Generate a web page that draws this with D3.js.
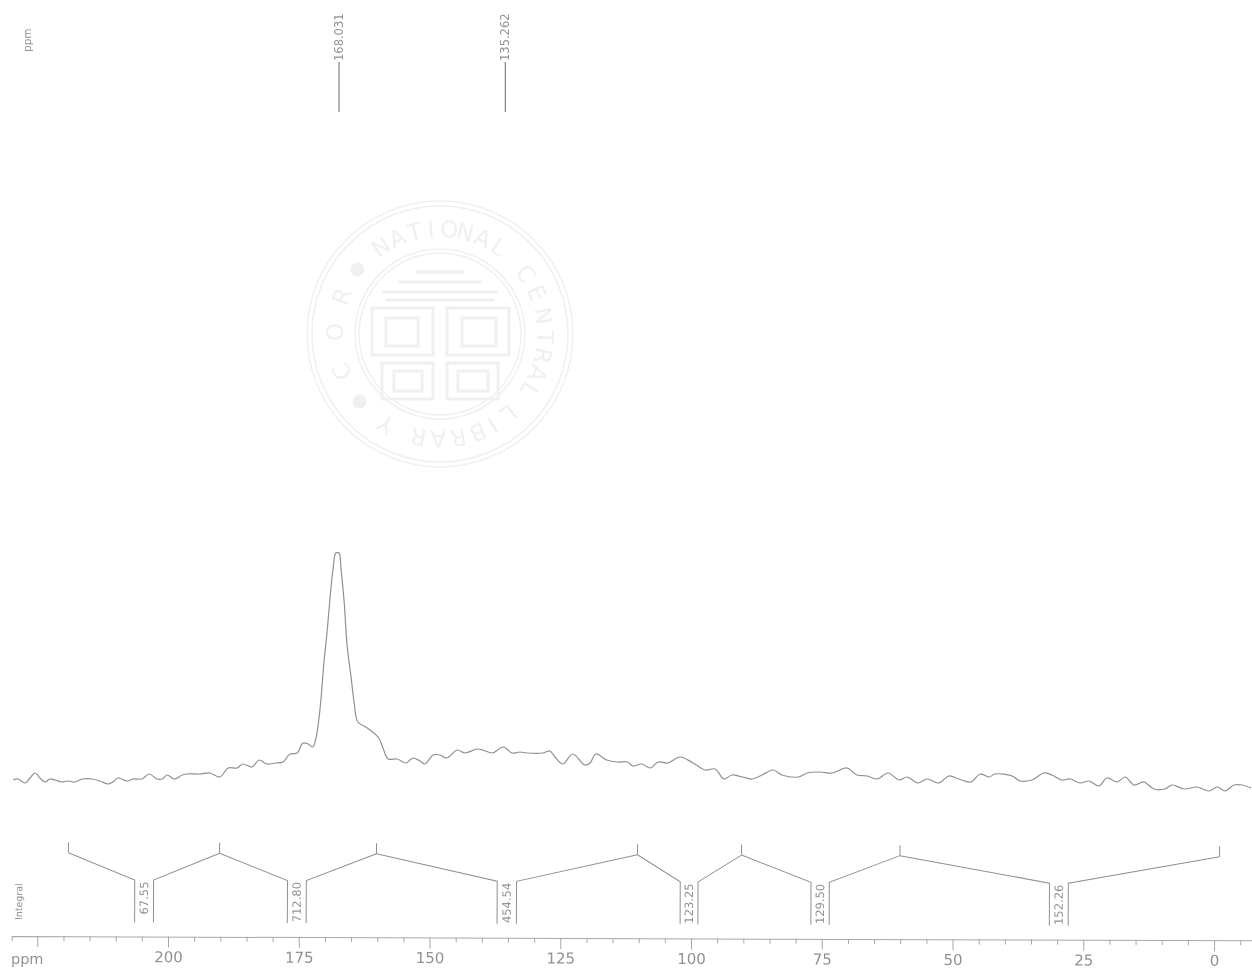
<!DOCTYPE html>
<html>
<head>
<meta charset="utf-8">
<script src="https://cdn.jsdelivr.net/npm/d3@7"></script>
<style>
  html, body { margin: 0; background: #fff; }
  svg { display: block; }
  text { font-family: "DejaVu Sans", sans-serif; fill: #929292; }
</style>
</head>
<body>
<div id="chart"></div>
<script>
// values
const spectrumPpm = [229.6,228.7,227.3,226.4,225.4,224.5,223.5,222.6,221.6,220.3,219.1,217.8,216.4,214.5,213.0,211.5,210.5,209.6,207.8,206.7,205.0,203.6,202.1,201.1,200.2,198.7,197.3,196.4,193.9,192.0,190.1,188.5,186.8,185.7,183.9,182.6,181.1,179.5,178.0,176.7,175.3,174.2,173.2,172.3,171.7,171.1,170.6,170.2,169.6,169.0,168.4,167.9,167.3,166.9,166.3,165.8,165.0,164.4,163.7,161.9,159.7,158.9,157.9,156.2,154.5,153.2,151.8,150.9,149.3,148.0,146.7,144.7,143.2,140.9,139.8,138.0,135.9,134.2,132.7,131.4,128.3,127.0,126.0,124.5,122.6,120.3,119.3,118.2,116.1,114.1,112.2,111.1,109.4,107.8,106.3,104.4,102.1,99.6,97.3,95.4,93.7,92.2,90.2,88.3,86.4,84.3,82.6,79.5,77.8,75.3,73.0,70.2,68.3,66.3,64.4,62.3,60.2,58.7,56.6,54.9,52.6,50.7,48.8,46.5,44.7,43.0,41.9,38.6,37.1,34.8,32.5,31.0,29.1,27.5,25.6,23.9,22.0,20.5,18.5,17.0,15.3,13.4,11.5,9.4,8.0,5.7,3.3,1.0,-0.6,-2.1,-3.8,-5.4,-7.1];
const spectrumIntensity = [20,21,17,22,27,22,18,21,20,18,19,18,21,21,19,16,18,22,19,21,21,26,21,21,25,21,25,26,26,27,23,32,32,36,33,40,36,37,38,46,47,57,56,53,62,83,110,137,167,203,233,247,247,230,197,157,123,97,78,72,62,52,41,41,37,42,39,36,45,45,42,50,47,51,50,47,53,47,48,47,47,49,43,36,46,35,37,46,40,38,38,34,36,32,38,37,43,37,30,31,21,25,23,21,25,30,25,23,27,28,27,32,25,24,21,27,20,23,17,21,17,24,21,18,26,23,26,24,19,20,27,25,20,21,17,19,14,22,18,23,15,18,11,11,15,11,13,9,13,9,15,15,12];

const peakPpm = [167.3, 135.5];
const peakLabels = ["168.031", "135.262"];

const integralBreaks = [219.1, 190.2, 160.2, 110.3, 90.4, 60.1, -1.0];
const integralLeft = [206.4, 177.2, 137.1, 102.1, 77.1, 31.5];
const integralRight = [202.8, 173.6, 133.4, 98.7, 73.6, 27.9];
const integralLabels = ["67.55", "712.80", "454.54", "123.25", "129.50", "152.26"];

const majorTicks = [225, 200, 175, 150, 125, 100, 75, 50, 25, 0];
const minorTicks = [220, 215, 210, 205, 195, 190, 185, 180, 170, 165, 160, 155, 145, 140, 135, 130, 120, 115, 110, 105, 95, 90, 85, 80, 70, 65, 60, 55, 45, 40, 35, 30, 20, 15, 10, 5, -5];
const majorLabels = ["", "200", "175", "150", "125", "100", "75", "50", "25", "0"];

// library stamp behind the plot: letter and angle in degrees from the top, clockwise
const sealLetters = ["N","A","T","I","O","N","A","L","C","E","N","T","R","A","L","L","I","B","R","A","R","Y","C","O","R"];
const sealAngles = [-34,-24,-14,-5,5,14,24,34,55,67,80,92,102,112,122,139,150,159,170,181,192,211,249,271,291];
const sealDots = [230, 308];

const svgWidth = 1252;
const svgHeight = 971;
const lineColor = "#909090";

const svg = d3.select("#chart").append("svg")
  .attr("width", svgWidth)
  .attr("height", svgHeight);

// the original is a soft scan
svg.append("filter").attr("id", "scan")
  .attr("x", 0).attr("y", 0).attr("width", 1).attr("height", 1)
  .attr("filterUnits", "objectBoundingBox")
  .append("feGaussianBlur").attr("stdDeviation", 0.5);

const page = svg.append("g").attr("filter", "url(#scan)");
page.append("rect").attr("width", svgWidth).attr("height", svgHeight).attr("fill", "#fff");

const x = d3.scaleLinear().domain([232, -7.3]).range([0.64, 1252.2]);
const y = d3.scaleLinear().domain([0, 250]).range([800, 550]);

// seal
const seal = page.append("g").attr("transform", "translate(440,334)");
const sealColor = "#f0f0f0";
[133, 128, 85, 81].forEach(r => {
  seal.append("circle").attr("r", r)
    .attr("fill", "none").attr("stroke", sealColor).attr("stroke-width", 1.5);
});
seal.selectAll(".seal-letter")
  .data(sealLetters)
  .enter().append("text")
  .attr("class", "seal-letter")
  .attr("transform", (d, i) => `rotate(${sealAngles[i]}) translate(0,-97)`)
  .attr("text-anchor", "middle")
  .attr("font-size", 23)
  .style("fill", sealColor)
  .text(d => d);
seal.selectAll(".seal-dot")
  .data(sealDots)
  .enter().append("circle")
  .attr("class", "seal-dot")
  .attr("transform", d => `rotate(${d}) translate(0,-105)`)
  .attr("r", 7)
  .attr("fill", sealColor);
// the four blocks and the bars in the middle of the stamp
[[-68,-26,61,47],[7,-26,62,47],[-58,29,51,36],[7,29,51,36],[-54,-16,32,28],[22,-16,34,28],[-46,37,28,20],[18,37,30,20]].forEach(b => {
  seal.append("rect")
    .attr("x", b[0]).attr("y", b[1]).attr("width", b[2]).attr("height", b[3])
    .attr("fill", "none").attr("stroke", sealColor).attr("stroke-width", 3);
});
[[-55,-34,55],[-58,-42,58],[-42,-52,42],[-24,-62,24]].forEach(b => {
  seal.append("line")
    .attr("x1", b[0]).attr("x2", b[2]).attr("y1", b[1]).attr("y2", b[1])
    .attr("stroke", sealColor).attr("stroke-width", 3);
});

// peak sticks and their labels
page.append("text")
  .attr("transform", "translate(31,52) rotate(-90)")
  .attr("font-size", 10.5)
  .text("ppm");

const peaks = page.selectAll(".peak")
  .data(peakPpm)
  .enter().append("g")
  .attr("class", "peak");

peaks.append("line")
  .attr("x1", d => x(d)).attr("x2", d => x(d))
  .attr("y1", 62).attr("y2", 112)
  .attr("stroke", "#808080").attr("stroke-width", 1.2);

peaks.append("text")
  .attr("transform", d => `translate(${x(d) + 4},61) rotate(-90)`)
  .attr("font-size", 11.5)
  .text((d, i) => peakLabels[i]);

// spectrum
const spectrum = spectrumPpm.map((p, i) => ({ ppm: p, value: spectrumIntensity[i] }));

page.append("path")
  .datum(spectrum)
  .attr("fill", "none")
  .attr("stroke", lineColor)
  .attr("stroke-width", 1.2)
  .attr("d", d3.line().x(d => x(d.ppm)).y(d => y(d.value)).curve(d3.curveCatmullRom));

// integrals and ppm axis sit on a slightly skewed part of the scan
const lower = page.append("g").attr("transform", "translate(3.3,0) rotate(0.2)");

const integralTop = 852.5;
const integralTick = 842;
const integralValley = 879.5;
const integralBottom = 922;

lower.append("text")
  .attr("transform", "translate(22,920) rotate(-90)")
  .attr("font-size", 9.5)
  .text("Integral");

lower.selectAll(".integral-tick")
  .data(integralBreaks)
  .enter().append("line")
  .attr("class", "integral-tick")
  .attr("x1", d => x(d)).attr("x2", d => x(d))
  .attr("y1", integralTick).attr("y2", integralTop)
  .attr("stroke", lineColor);

const regions = lower.selectAll(".integral")
  .data(integralLabels)
  .enter().append("g")
  .attr("class", "integral");

regions.append("path")
  .attr("fill", "none")
  .attr("stroke", lineColor)
  .attr("d", (d, i) => d3.line()([
    [x(integralBreaks[i]), integralTop],
    [x(integralLeft[i]), integralValley],
    [x(integralLeft[i]), integralBottom]
  ]));

regions.append("path")
  .attr("fill", "none")
  .attr("stroke", lineColor)
  .attr("d", (d, i) => d3.line()([
    [x(integralBreaks[i + 1]), integralTop],
    [x(integralRight[i]), integralValley],
    [x(integralRight[i]), integralBottom]
  ]));

regions.append("text")
  .attr("transform", (d, i) => `translate(${(x(integralLeft[i]) + x(integralRight[i])) / 2 + 4},881) rotate(-90)`)
  .attr("text-anchor", "end")
  .attr("font-size", 11.5)
  .text(d => d);

// ppm axis
const axisY = 936;
const axisColor = "#a8a8a8";
const axisScale = x.copy().domain([229.9, -7.3]).range([x(229.9), x(-7.3)]);

const minorAxis = lower.append("g")
  .attr("transform", `translate(0,${axisY})`)
  .call(d3.axisBottom(axisScale).tickValues(minorTicks).tickSize(5).tickSizeOuter(5).tickFormat(""));

const majorAxis = lower.append("g")
  .attr("transform", `translate(0,${axisY})`)
  .call(d3.axisBottom(axisScale)
    .tickValues(majorTicks)
    .tickSize(11)
    .tickPadding(4)
    .tickFormat((d, i) => majorLabels[i]));

majorAxis.select(".domain").remove();
minorAxis.selectAll("path, line").attr("stroke", axisColor);
majorAxis.selectAll("line").attr("stroke", axisColor);
majorAxis.attr("font-size", 15).attr("font-family", null);

lower.append("text")
  .attr("x", 11)
  .attr("y", 964)
  .attr("font-size", 14.5)
  .text("ppm");
</script>
</body>
</html>
